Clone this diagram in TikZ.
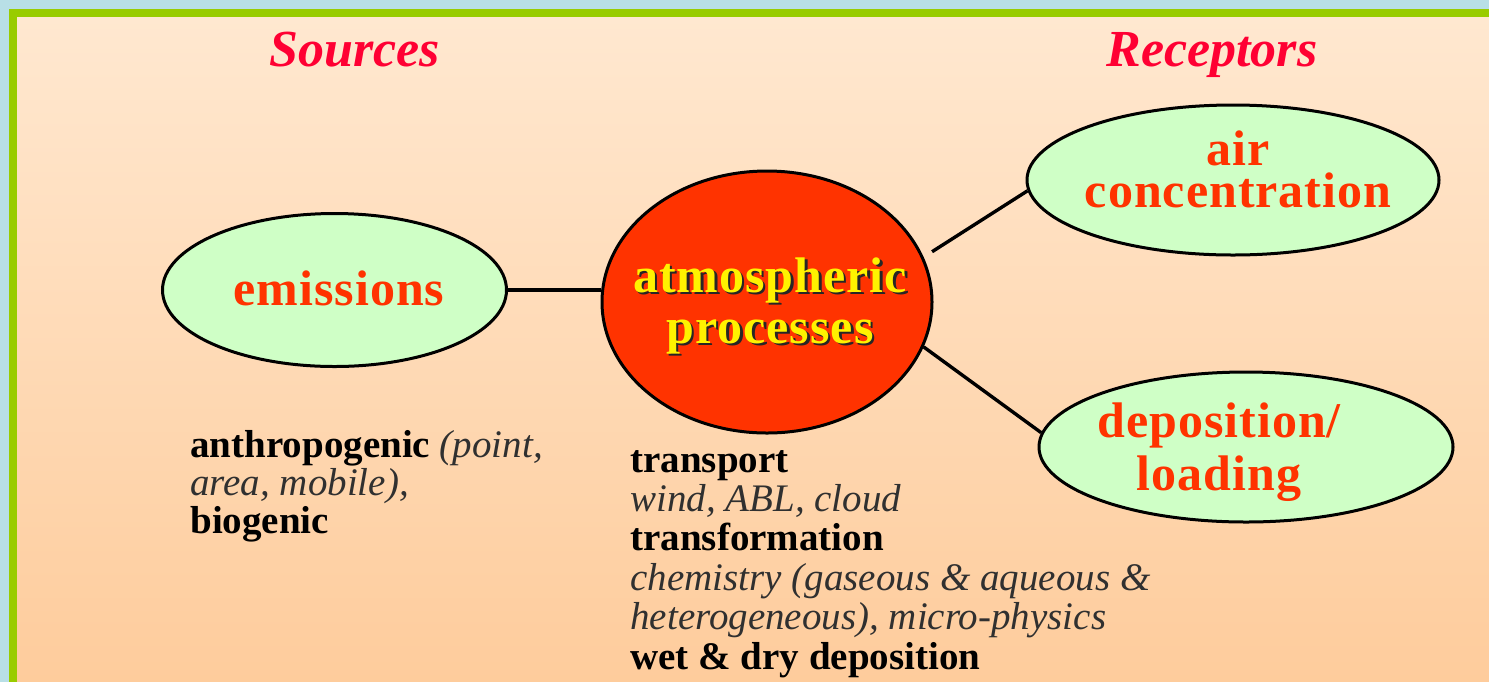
\documentclass[tikz,border=0pt]{standalone}
\usepackage{fontspec}
\setmainfont{Liberation Serif}
\newfontfamily\widebold[LetterSpace=2]{Liberation Serif}
\usepackage{tikz}
\usetikzlibrary{shapes.geometric}
\definecolor{slideblue}{HTML}{B8DFE6}
\definecolor{framegreen}{HTML}{99CC00}
\definecolor{bgtop}{HTML}{FFE8D0}
\definecolor{bgbottom}{HTML}{FECC9C}
\definecolor{headred}{HTML}{FF0033}
\definecolor{labelred}{HTML}{FF3300}
\definecolor{paleleaf}{HTML}{CFFFC6}
\definecolor{italgray}{HTML}{303030}

\begin{document}
\begin{tikzpicture}[x=0.5pt,y=-0.5pt,
  bubble/.style={ellipse,draw=black,line width=1.5pt,fill=paleleaf,inner sep=0pt},
  bubbletext/.style={text=labelred,align=center,inner sep=0pt,anchor=base,
    font=\widebold\bfseries\fontsize{25}{#1}\selectfont},
  heading/.style={text=headred,inner sep=0pt,anchor=base,
    font=\bfseries\itshape\fontsize{26}{30}\selectfont},
  notes/.style={align=left,inner sep=0pt,anchor=base west,
    font=\fontsize{19.5}{#1}\selectfont},
  link/.style={line width=1.7pt}]
  \useasboundingbox (0,0) rectangle (1489,682);
  % slide background and frame
  \fill[slideblue] (0,0) rectangle (1489,682);
  \fill[framegreen] (9,9) rectangle (1489,682);
  \shade[top color=bgtop,bottom color=bgbottom] (17,17) rectangle (1489,681);

  \node[heading] (srchead) at (355,66) {Sources};
  \node[heading] (rechead) at (1212,66) {Receptors};

  \node[bubble,minimum width=172pt,minimum height=76.5pt] (emis) at (334.5,290) {};
  \node[bubble,fill=labelred,minimum width=165pt,minimum height=131pt] (atmo) at (767,302) {};
  \node[bubble,minimum width=206pt,minimum height=75pt] (air) at (1233,180) {};
  \node[bubble,minimum width=207pt,minimum height=75pt] (dep) at (1246,447) {};

  \draw[link] (emis.east) -- (emis.east -| atmo.west);
  \draw[link,shorten <=5pt] (atmo.16) -- (air.183);
  \draw[link] (atmo.-16) -- (dep.176);

  \node[bubbletext=21] (emistext) at (339,305) {emissions};
  \node[bubbletext=21] (airtext) at (1238,207) {air\\concentration};
  \node[bubbletext=26.5] (deptext) at (1219,490) {deposition/\\loading};
  \node[bubbletext=25.5,text=black!85] (atmoshade) at (772.5,345.5) {atmospheric\\processes};
  \node[bubbletext=25.5,text=yellow] (atmotext) at (770,343) {atmospheric\\processes};

  \node[notes=19] (srcnotes) at (190,533)
    {\textbf{anthropogenic} {\color{italgray}\itshape(point,}\\
     {\color{italgray}\itshape area, mobile),}\\
     \textbf{biogenic}};
  \node[notes=19.7] (procnotes) at (630,669)
    {\textbf{transport}\\
     {\color{italgray}\itshape wind, ABL, cloud}\\
     \textbf{transformation}\\
     {\color{italgray}\itshape chemistry (gaseous \& aqueous \&}\\
     {\color{italgray}\itshape heterogeneous), micro-physics}\\
     \textbf{wet \& dry deposition}};
\end{tikzpicture}
\end{document}
